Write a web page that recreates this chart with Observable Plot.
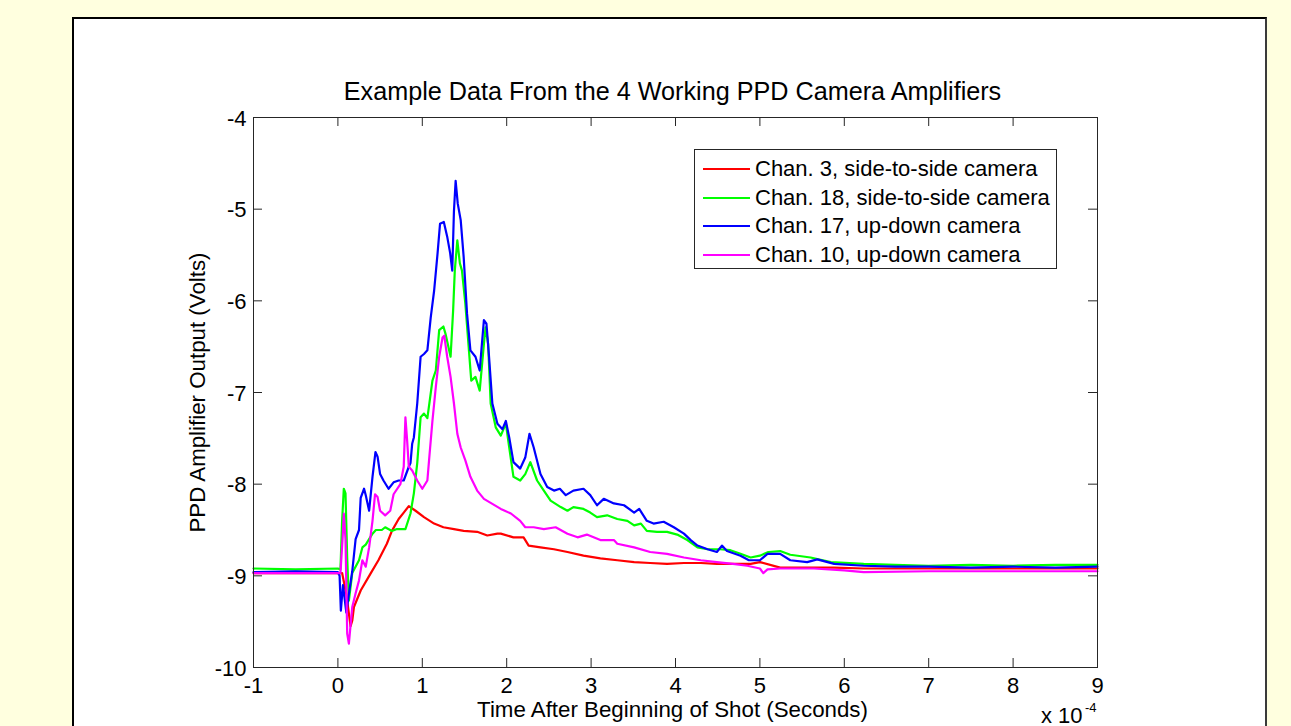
<!DOCTYPE html>
<html>
<head>
<meta charset="utf-8">
<script src="https://cdn.jsdelivr.net/npm/d3@7"></script>
<script src="https://cdn.jsdelivr.net/npm/@observablehq/plot@0.6"></script>
<style>
  html, body { margin: 0; padding: 0; width: 1291px; height: 726px; overflow: hidden; background: #FFFFDF; }
  #panel { position: absolute; left: 72px; top: 17px; width: 1191px; height: 800px; background: #fff;
           border: 2px solid #000; border-right-color: #3a3a3a; }
  #chart { position: absolute; left: 0; top: 0; }
  #legend { position: absolute; left: 694px; top: 149px; width: 361px; height: 118px; background: #fff;
            border: 1px solid #262626; font: 22px "Liberation Sans", Arial, sans-serif; color: #000; }
  #legend .row { position: absolute; left: 0; height: 28px; display: flex; align-items: center; white-space: nowrap; }
  #legend .sw { width: 47px; height: 2px; margin-left: 8px; margin-right: 5px; }
</style>
</head>
<body>
<div id="panel"></div>
<div id="chart"></div>
<div id="legend"></div>
<script>
// Time in units of 1e-4 s, amplifier output in volts.
const chan3 = [
  [-1, -8.97], [-0.5, -8.97], [0, -8.97], [0.05, -8.97], [0.10, -9.2], [0.15, -9.55], [0.17, -9.49],
  [0.19, -9.34], [0.27, -9.16], [0.39, -8.97], [0.48, -8.83], [0.58, -8.65], [0.64, -8.51], [0.72, -8.38],
  [0.78, -8.31], [0.84, -8.24], [0.92, -8.29], [1.02, -8.36], [1.14, -8.43], [1.25, -8.47], [1.375, -8.49],
  [1.49, -8.51], [1.65, -8.52], [1.77, -8.56], [1.89, -8.54], [1.93, -8.54], [2.08, -8.58], [2.20, -8.58],
  [2.26, -8.67], [2.40, -8.69], [2.56, -8.71], [2.72, -8.74], [2.91, -8.78], [3.11, -8.81], [3.31, -8.83],
  [3.51, -8.85], [3.70, -8.86], [3.90, -8.87], [4.10, -8.86], [4.30, -8.86], [4.49, -8.87], [4.68, -8.87],
  [4.89, -8.87], [5.00, -8.85], [5.24, -8.91], [5.64, -8.91], [5.88, -8.91], [6.23, -8.92], [7, -8.92],
  [8, -8.92], [9, -8.92]
];
const chan18 = [
  [-1, -8.92], [-0.5, -8.93], [0, -8.92], [0.03, -8.93], [0.05, -8.4], [0.07, -8.05], [0.09, -8.1],
  [0.11, -8.8], [0.13, -9.27], [0.17, -8.97], [0.25, -8.83], [0.29, -8.69], [0.33, -8.66], [0.41, -8.54],
  [0.45, -8.5], [0.52, -8.5], [0.56, -8.47], [0.64, -8.51], [0.70, -8.49], [0.80, -8.49], [0.86, -8.32],
  [0.90, -8.1], [0.94, -7.77], [0.98, -7.27], [1.02, -7.23], [1.06, -7.28], [1.12, -6.87], [1.16, -6.76],
  [1.20, -6.32], [1.25, -6.28], [1.275, -6.36], [1.335, -6.61], [1.365, -6.11], [1.385, -5.67], [1.415, -5.34],
  [1.445, -5.59], [1.47, -5.67], [1.51, -6.03], [1.55, -6.51], [1.58, -6.87], [1.63, -6.83], [1.68, -6.98],
  [1.73, -6.47], [1.75, -6.29], [1.78, -6.47], [1.81, -7.12], [1.87, -7.38], [1.93, -7.47], [1.99, -7.34],
  [2.03, -7.60], [2.08, -7.92], [2.16, -7.96], [2.22, -7.89], [2.28, -7.76], [2.36, -7.96], [2.44, -8.07],
  [2.52, -8.18], [2.64, -8.25], [2.72, -8.29], [2.79, -8.25], [2.91, -8.27], [2.99, -8.31], [3.07, -8.36],
  [3.19, -8.34], [3.31, -8.38], [3.43, -8.40], [3.51, -8.45], [3.59, -8.43], [3.66, -8.51], [3.78, -8.52],
  [3.90, -8.52], [4.02, -8.55], [4.14, -8.61], [4.26, -8.69], [4.38, -8.71], [4.53, -8.71], [4.65, -8.72],
  [4.77, -8.76], [4.89, -8.80], [5.00, -8.78], [5.10, -8.74], [5.24, -8.73], [5.36, -8.77], [5.60, -8.80],
  [5.84, -8.85], [6.23, -8.87], [6.6, -8.88], [7.0, -8.89], [7.5, -8.88], [8.0, -8.89], [8.5, -8.88], [9, -8.88]
];
const chan17 = [
  [-1, -8.96], [-0.5, -8.95], [0, -8.96], [0.02, -9.0], [0.035, -9.38], [0.06, -9.1], [0.08, -9.25],
  [0.10, -9.40], [0.13, -9.2], [0.17, -8.95], [0.21, -8.6], [0.25, -8.5], [0.27, -8.15], [0.31, -8.05],
  [0.33, -8.12], [0.37, -8.29], [0.41, -7.92], [0.445, -7.65], [0.47, -7.7], [0.50, -7.89], [0.54, -7.96],
  [0.60, -8.05], [0.66, -7.98], [0.72, -7.96], [0.78, -7.96], [0.84, -7.81], [0.86, -7.77], [0.88, -7.56],
  [0.90, -7.49], [0.94, -7.12], [0.98, -6.61], [1.02, -6.58], [1.06, -6.54], [1.10, -6.18], [1.14, -5.89],
  [1.18, -5.49], [1.21, -5.16], [1.255, -5.14], [1.295, -5.30], [1.33, -5.48], [1.355, -5.67], [1.375, -5.02],
  [1.395, -4.69], [1.42, -4.94], [1.455, -5.12], [1.49, -5.52], [1.53, -6.14], [1.57, -6.54], [1.63, -6.61],
  [1.68, -6.76], [1.73, -6.21], [1.76, -6.25], [1.79, -6.6], [1.83, -7.12], [1.89, -7.34], [1.95, -7.40],
  [1.99, -7.31], [2.03, -7.49], [2.08, -7.76], [2.16, -7.83], [2.22, -7.71], [2.27, -7.45], [2.32, -7.60],
  [2.40, -7.89], [2.48, -8.03], [2.56, -8.07], [2.63, -8.05], [2.70, -8.12], [2.79, -8.07], [2.91, -8.05],
  [2.99, -8.12], [3.07, -8.23], [3.15, -8.16], [3.27, -8.21], [3.39, -8.23], [3.51, -8.31], [3.57, -8.27],
  [3.66, -8.40], [3.74, -8.43], [3.86, -8.41], [3.98, -8.47], [4.10, -8.54], [4.18, -8.61], [4.26, -8.67],
  [4.38, -8.71], [4.49, -8.74], [4.55, -8.67], [4.61, -8.73], [4.77, -8.78], [4.87, -8.83], [5.00, -8.83],
  [5.09, -8.76], [5.24, -8.76], [5.36, -8.83], [5.56, -8.85], [5.68, -8.82], [5.88, -8.87], [6.23, -8.89],
  [6.6, -8.90], [7.0, -8.90], [7.5, -8.91], [8.0, -8.90], [8.5, -8.91], [9, -8.90]
];
const chan10 = [
  [-1, -8.97], [-0.5, -8.97], [0, -8.97], [0.03, -8.97], [0.055, -8.6], [0.07, -8.32], [0.09, -8.6],
  [0.11, -9.63], [0.13, -9.74], [0.17, -9.34], [0.21, -9.19], [0.25, -9.05], [0.29, -8.83], [0.33, -8.90],
  [0.37, -8.69], [0.41, -8.40], [0.44, -8.11], [0.47, -8.14], [0.50, -8.29], [0.56, -8.34], [0.62, -8.29],
  [0.66, -8.11], [0.74, -8.00], [0.78, -7.81], [0.80, -7.27], [0.82, -7.52], [0.84, -7.81], [0.88, -7.85],
  [0.94, -7.96], [1.00, -8.05], [1.06, -7.96], [1.08, -7.74], [1.12, -7.31], [1.16, -6.94], [1.20, -6.61],
  [1.24, -6.40], [1.26, -6.38], [1.295, -6.61], [1.335, -6.83], [1.375, -7.12], [1.415, -7.45], [1.455, -7.60],
  [1.51, -7.74], [1.57, -7.92], [1.65, -8.07], [1.73, -8.16], [1.93, -8.27], [2.05, -8.32], [2.16, -8.40],
  [2.22, -8.47], [2.32, -8.47], [2.44, -8.49], [2.58, -8.47], [2.72, -8.54], [2.84, -8.58], [2.95, -8.55],
  [3.11, -8.61], [3.27, -8.61], [3.31, -8.65], [3.51, -8.69], [3.70, -8.74], [3.90, -8.76], [4.10, -8.80],
  [4.30, -8.83], [4.49, -8.85], [4.68, -8.87], [4.85, -8.89], [5.00, -8.92], [5.04, -8.97], [5.09, -8.93],
  [5.24, -8.92], [5.64, -8.92], [6.0, -8.94], [6.23, -8.96], [7, -8.95], [8, -8.95], [9, -8.95]
];

const seriesNames = [
  "Chan. 3, side-to-side camera",
  "Chan. 18, side-to-side camera",
  "Chan. 17, up-down camera",
  "Chan. 10, up-down camera"
];
const seriesColors = ["#ff0000", "#00ff00", "#0000ff", "#ff00ff"];
const xTicks = [-1, 0, 1, 2, 3, 4, 5, 6, 7, 8, 9];
const yTicks = [-10, -9, -8, -7, -6, -5, -4];

const titleText = "Example Data From the 4 Working PPD Camera Amplifiers";
const xLabel = "Time After Beginning of Shot (Seconds)";
const yLabel = "PPD Amplifier Output (Volts)";

const rows = [chan3, chan18, chan17, chan10].flatMap((pts, i) =>
  pts.map(([t, v]) => ({series: seriesNames[i], t, v}))
);

const W = 1291, H = 726, mL = 253, mR = 194, mT = 117, mB = 59;
const plotW = W - mL - mR, plotH = H - mT - mB;
const tickLen = 9;
const axisColor = "#262626";
const font = "'Liberation Sans', Arial, Helvetica, sans-serif";

const chart = Plot.plot({
  width: W, height: H,
  marginLeft: mL, marginRight: mR, marginTop: mT, marginBottom: mB,
  x: {domain: [-1, 9], axis: null},
  y: {domain: [-10, -4], axis: null},
  color: {domain: seriesNames, range: seriesColors},
  style: {fontFamily: font, background: "transparent", color: "#000"},
  marks: [
    Plot.line(rows, {x: "t", y: "v", z: "series", stroke: "series", strokeWidth: 2.2}),
    Plot.frame({stroke: axisColor}),
    // inward ticks on all four sides
    Plot.tickX(xTicks, {x: d => d, insetTop: plotH - tickLen, stroke: axisColor}),
    Plot.tickX(xTicks, {x: d => d, insetBottom: plotH - tickLen, stroke: axisColor}),
    Plot.tickY(yTicks, {y: d => d, insetRight: plotW - tickLen, stroke: axisColor}),
    Plot.tickY(yTicks, {y: d => d, insetLeft: plotW - tickLen, stroke: axisColor}),
    Plot.text(xTicks, {x: d => d, text: d => `${d}`, frameAnchor: "bottom", dy: 25, lineAnchor: "bottom", fontSize: 22}),
    Plot.text(yTicks, {y: d => d, text: d => `${d}`, frameAnchor: "left", dx: -7, dy: 1, textAnchor: "end", lineAnchor: "middle", fontSize: 22}),
    Plot.text([titleText], {frameAnchor: "top", dx: -3, dy: -18, lineAnchor: "bottom", fontSize: 25.2}),
    Plot.text([xLabel], {frameAnchor: "bottom", dx: -3, dy: 49, lineAnchor: "bottom", fontSize: 22.3}),
    Plot.text([yLabel], {frameAnchor: "left", dx: -56, rotate: -90, textAnchor: "middle", lineAnchor: "middle", fontSize: 22.3}),
    Plot.text(["x 10"], {frameAnchor: "bottom-right", dx: -15, dy: 55, textAnchor: "end", lineAnchor: "bottom", fontSize: 22}),
    Plot.text(["-4"], {frameAnchor: "bottom-right", dx: -1, dy: 44, textAnchor: "end", lineAnchor: "bottom", fontSize: 13})
  ]
});
document.getElementById("chart").append(chart);

// legend box inside the axes, top right
const legend = document.getElementById("legend");
seriesNames.forEach((name, i) => {
  const row = document.createElement("div");
  row.className = "row";
  row.style.top = `${5 + i * 28.5}px`;
  const sw = document.createElement("span");
  sw.className = "sw";
  sw.style.background = seriesColors[i];
  const label = document.createElement("span");
  label.textContent = name;
  row.append(sw, label);
  legend.append(row);
});
</script>
</body>
</html>
